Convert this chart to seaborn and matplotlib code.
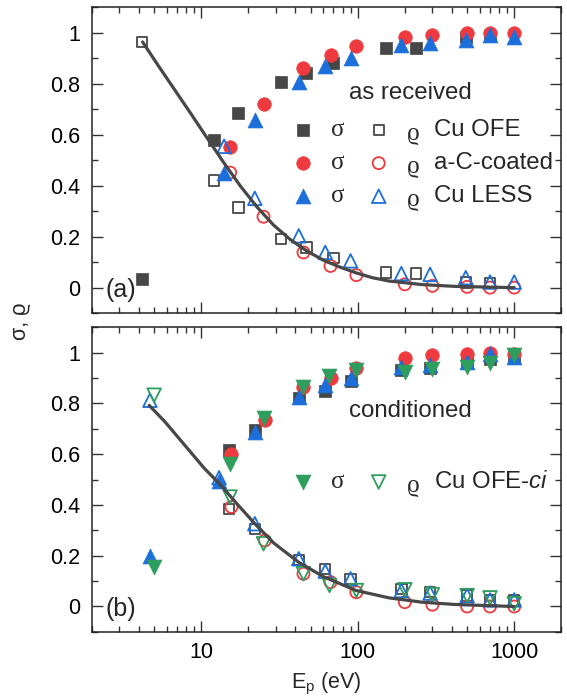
import numpy as np
import pandas as pd
import seaborn as sns
from matplotlib import pyplot as plt
from matplotlib.ticker import MultipleLocator, FixedLocator, NullFormatter

#===== DATA =====================================
# panel (a): as received
ofe_a_E = [4.2, 12.1, 17.3, 32.5, 47, 70, 151, 236, 490, 700]
ofe_a_sigma = [0.035, 0.577, 0.685, 0.807, 0.843, 0.882, 0.938, 0.938, 0.984, 0.987]
ofe_a_rho = [0.963, 0.42, 0.314, 0.19, 0.157, 0.117, 0.059, 0.055, 0.02, 0.018]

ac_a_E = [15.3, 25, 45, 67, 98, 200, 300, 500, 700, 1000]
ac_a_sigma = [0.55, 0.72, 0.862, 0.911, 0.948, 0.984, 0.992, 0.997, 1.0, 1.0]
ac_a_rho = [0.451, 0.278, 0.138, 0.085, 0.049, 0.013, 0.007, 0.003, 0.0, 0.0]

less_a_E = [14, 22, 42, 62, 90, 190, 290, 490, 700, 1000]
less_a_sigma = [0.451, 0.656, 0.806, 0.869, 0.9, 0.95, 0.958, 0.971, 0.99, 0.984]
less_a_rho = [0.554, 0.35, 0.203, 0.138, 0.105, 0.055, 0.052, 0.039, 0.022, 0.022]

fit_a_E = [4.22, 5.33, 6.79, 8.65, 11.0, 14.0, 17.9, 22.8, 29.0, 37.0, 47.2,
           60.1, 76.6, 97.6, 124, 158, 257, 418, 1000]
fit_a_val = [0.963, 0.869, 0.774, 0.679, 0.583, 0.488, 0.396, 0.315, 0.245, 0.189,
             0.144, 0.108, 0.081, 0.058, 0.039, 0.026, 0.012, 0.005, 0.0]

# panel (b): conditioned
ofe_b_E = [15, 22, 42, 62, 90, 190, 290, 500, 700, 1000]
ofe_b_sigma = [0.615, 0.694, 0.82, 0.85, 0.888, 0.93, 0.94, 0.963, 0.976, 0.983]
ofe_b_rho = [0.385, 0.306, 0.184, 0.148, 0.109, 0.07, 0.057, 0.043, 0.026, 0.024]

ac_b_E = [15.6, 25.5, 45, 67, 98, 200, 300, 500, 700, 1000]
ac_b_sigma = [0.602, 0.733, 0.865, 0.901, 0.94, 0.98, 0.99, 0.996, 0.999, 0.996]
ac_b_rho = [0.392, 0.26, 0.129, 0.096, 0.056, 0.017, 0.007, 0.0, 0.0, 0.0]

less_b_E = [4.7, 13, 22, 42, 62, 90, 190, 290, 500, 700, 1000]
less_b_sigma = [0.2, 0.494, 0.687, 0.823, 0.871, 0.9, 0.944, 0.95, 0.963, 0.996, 0.983]
less_b_rho = [0.812, 0.507, 0.326, 0.188, 0.139, 0.109, 0.063, 0.053, 0.043, 0.026, 0.026]

ci_b_E = [5.0, 15.3, 25, 45, 66, 98, 200, 300, 500, 700, 1000]
ci_b_sigma = [0.155, 0.562, 0.744, 0.865, 0.907, 0.933, 0.924, 0.937, 0.943, 0.957, 0.99]
ci_b_rho = [0.832, 0.431, 0.247, 0.129, 0.083, 0.063, 0.066, 0.047, 0.043, 0.034, 0.011]

fit_b_E = [4.65, 5.87, 7.85, 10.5, 13.05, 17.05, 22.0, 29.05, 41.8, 60.1, 97.6,
           158.5, 257, 418, 990]
fit_b_val = [0.792, 0.727, 0.635, 0.543, 0.484, 0.402, 0.326, 0.25, 0.175, 0.118,
             0.063, 0.034, 0.017, 0.008, 0.0]

y_ticks = [0, 0.2, 0.4, 0.6, 0.8, 1]
y_labels = ["0", "0.2", "0.4", "0.6", "0.8", "1"]
x_ticks = [10, 100, 1000]
x_labels = ["10", "100", "1000"]

#===== STYLE =====================================
sns.set_theme(style="ticks")
plt.rcParams['font.family'] = ['Liberation Sans', 'DejaVu Sans']
plt.rcParams['mathtext.fontset'] = 'custom'
plt.rcParams['mathtext.rm'] = 'Liberation Sans'
plt.rcParams['mathtext.it'] = 'Liberation Sans:italic'
plt.rcParams['xtick.direction'] = 'in'
plt.rcParams['ytick.direction'] = 'in'

GRAY = "#474747"
RED = "#ee3a3e"
BLUE = "#1c6fdb"
GREEN = "#2e9e5e"
GREEK = ['Liberation Serif', 'DejaVu Serif']
TXT = 17.3

# marker, size filled, size hollow
MARK = {"s": (80, 55), "o": (95, 75), "^": (115, 95), "v": (115, 95)}


def draw_series(ax, E, sigma, rho, color, marker):
    """
        sigma as filled markers, rho as hollow markers
    """
    s_full, s_open = MARK[marker]
    sns.scatterplot(x=E, y=sigma, ax=ax, marker=marker, s=s_full, color=color,
                    edgecolor=color, linewidth=0.5, zorder=3, legend=False)
    sns.scatterplot(x=E, y=rho, ax=ax, marker=marker, s=s_open, color=color,
                    facecolor="none", edgecolor=color, linewidth=1.3, zorder=3,
                    legend=False)


def legend_row(ax, y, color, marker, label):
    s_full, s_open = MARK[marker]
    ax.scatter([0.449], [y], transform=ax.transAxes, marker=marker, s=s_full,
               color=color, edgecolor=color, linewidth=0.5, clip_on=False, zorder=5)
    ax.scatter([0.611], [y], transform=ax.transAxes, marker=marker, s=s_open,
               facecolor="none", edgecolor=color, linewidth=1.3, clip_on=False, zorder=5)
    ax.text(0.523, y, "σ", transform=ax.transAxes, fontsize=18, family=GREEK,
            ha="center", va="center")
    ax.text(0.685, y - 0.012, "ϱ", transform=ax.transAxes, fontsize=18, family=GREEK,
            ha="center", va="center")
    ax.text(0.728, y, label, transform=ax.transAxes, fontsize=TXT, ha="left", va="center")


def style_axes(ax):
    ax.set_xscale("log")
    ax.set_xlim(2, 2000)
    ax.set_ylim(-0.1, 1.1)
    ax.yaxis.set_major_locator(FixedLocator(y_ticks))
    ax.yaxis.set_minor_locator(MultipleLocator(0.1))
    ax.set_yticklabels(y_labels)
    ax.xaxis.set_major_locator(FixedLocator(x_ticks))
    ax.set_xticklabels(x_labels)
    ax.xaxis.set_minor_locator(FixedLocator(
        [m * 10 ** k for k in range(0, 4) for m in range(2, 10)]))
    ax.xaxis.set_minor_formatter(NullFormatter())
    ax.tick_params(which="both", top=True, right=True, width=1, color="#333333",
                   labelsize=15.5, labelcolor="black")
    ax.tick_params(axis="y", pad=8.5)
    ax.tick_params(axis="x", pad=7)
    ax.tick_params(which="major", length=8)
    ax.tick_params(which="minor", length=4.3)
    for sp in ax.spines.values():
        sp.set_linewidth(1.1)
        sp.set_color("#222222")
    ax.set_xlabel("")
    ax.set_ylabel("")


#===== PLOT =====================================
fig = plt.figure(figsize=(5.67, 6.99), dpi=100)
ax_a = fig.add_axes([0.162, 0.552, 0.828, 0.438])
ax_b = fig.add_axes([0.162, 0.096, 0.828, 0.436])

draw_series(ax_a, ofe_a_E, ofe_a_sigma, ofe_a_rho, GRAY, "s")
draw_series(ax_a, ac_a_E, ac_a_sigma, ac_a_rho, RED, "o")
draw_series(ax_a, less_a_E, less_a_sigma, less_a_rho, BLUE, "^")
sns.lineplot(x=fit_a_E, y=fit_a_val, ax=ax_a, color=GRAY, linewidth=2.3, zorder=4)

draw_series(ax_b, ofe_b_E, ofe_b_sigma, ofe_b_rho, GRAY, "s")
draw_series(ax_b, ac_b_E, ac_b_sigma, ac_b_rho, RED, "o")
draw_series(ax_b, less_b_E, less_b_sigma, less_b_rho, BLUE, "^")
draw_series(ax_b, ci_b_E, ci_b_sigma, ci_b_rho, GREEN, "v")
sns.lineplot(x=fit_b_E, y=fit_b_val, ax=ax_b, color=GRAY, linewidth=2.3, zorder=4)

for ax in (ax_a, ax_b):
    style_axes(ax)

ax_a.tick_params(axis="x", labelbottom=False)

# legends
ax_a.text(0.547, 0.719, "as received", transform=ax_a.transAxes, fontsize=TXT,
          ha="left", va="center")
legend_row(ax_a, 0.598, GRAY, "s", "Cu OFE")
legend_row(ax_a, 0.490, RED, "o", "a-C-coated")
legend_row(ax_a, 0.382, BLUE, "^", "Cu LESS")

ax_b.text(0.547, 0.725, "conditioned", transform=ax_b.transAxes, fontsize=TXT,
          ha="left", va="center")
legend_row(ax_b, 0.492, GREEN, "v", "Cu OFE-$\\mathit{ci}$")

ax_a.text(0.03, 0.075, "(a)", transform=ax_a.transAxes, fontsize=18, va="center")
ax_b.text(0.03, 0.075, "(b)", transform=ax_b.transAxes, fontsize=18, va="center")

ax_b.set_xlabel("E$_\\mathrm{p}$ (eV)", fontsize=15.5, labelpad=6)
fig.text(0.036, 0.54, "σ, ϱ", rotation=90, fontsize=15.5, ha="center", va="center")

fig.savefig("out.png", dpi=100)
